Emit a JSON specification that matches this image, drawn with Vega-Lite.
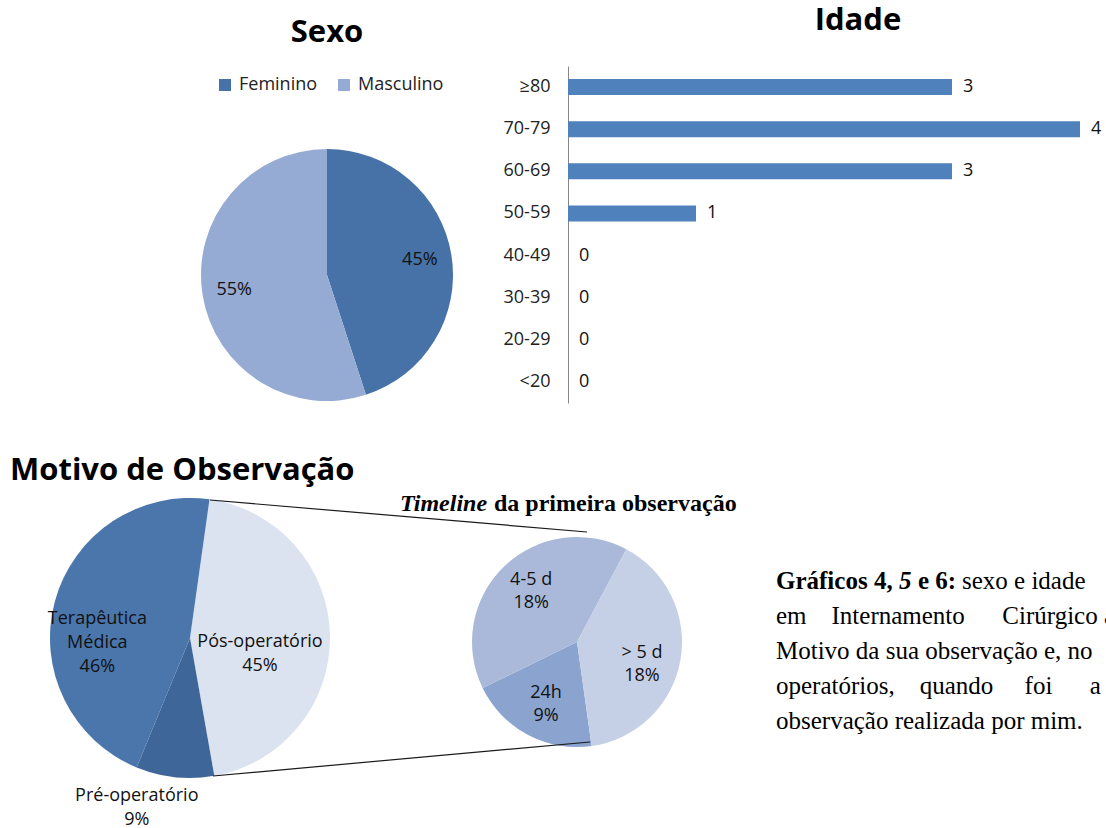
{
  "$schema": "https://vega.github.io/schema/vega-lite/v6.json",
  "background": "white",
  "padding": {"left": 10, "top": 5, "right": 0, "bottom": 0},
  "columns": 2,
  "bounds": "flush",
  "align": "none",
  "spacing": {"row": 14, "column": 14},
  "config": {
    "view": {"stroke": null},
    "font": "Open Sans",
    "title": {"font": "Open Sans", "fontSize": 31, "fontWeight": "bold", "color": "#000"},
    "text": {"font": "Open Sans", "fontSize": 18, "color": "#111"}
  },
  "concat": [
    {
      "width": 454,
      "height": 418,
      "title": {"text": "Sexo", "offset": 17},
      "data": {"values": [
        {"sexo": "Feminino", "pct": 45},
        {"sexo": "Masculino", "pct": 55}
      ]},
      "transform": [{"calculate": "datum.pct + '%'", "as": "rotulo"}],
      "encoding": {
        "theta": {"field": "pct", "type": "quantitative", "stack": true},
        "color": {
          "field": "sexo", "type": "nominal",
          "scale": {"domain": ["Feminino", "Masculino"], "range": ["#4672a7", "#95abd3"]},
          "legend": {
            "orient": "none", "legendX": 116, "legendY": 10, "direction": "horizontal",
            "title": null, "symbolType": "square", "symbolSize": 144, "symbolStrokeWidth": 0,
            "labelFontSize": 18, "labelFont": "Open Sans", "labelColor": "#222",
            "columnPadding": 17, "labelOffset": 5
          }
        }
      },
      "layer": [
        {"mark": {"type": "arc", "radius": 126}},
        {
          "mark": {"type": "text", "radius": 94},
          "encoding": {
            "text": {"field": "rotulo"},
            "detail": {"field": "sexo"},
            "color": {"value": "#111"}
          }
        }
      ]
    },
    {
      "width": 512,
      "height": 337,
      "title": {"text": "Idade", "offset": 29, "dx": 34},
      "data": {"values": [
        {"faixa": "≥80", "n": 3},
        {"faixa": "70-79", "n": 4},
        {"faixa": "60-69", "n": 3},
        {"faixa": "50-59", "n": 1},
        {"faixa": "40-49", "n": 0},
        {"faixa": "30-39", "n": 0},
        {"faixa": "20-29", "n": 0},
        {"faixa": "<20", "n": 0}
      ]},
      "encoding": {
        "y": {
          "field": "faixa", "type": "nominal", "sort": null,
          "scale": {"paddingInner": 0.62, "paddingOuter": 0.31},
          "axis": {
            "title": null, "ticks": false, "labelPadding": 18, "labelFontSize": 18,
            "labelFont": "Open Sans", "labelColor": "#222", "domainColor": "#888888"
          }
        },
        "x": {"field": "n", "type": "quantitative", "scale": {"domain": [0, 4], "nice": false}, "axis": null}
      },
      "layer": [
        {"mark": {"type": "bar", "color": "#4f81bd"}},
        {
          "mark": {"type": "text", "align": "left", "dx": 11},
          "encoding": {"text": {"field": "n", "type": "quantitative"}}
        }
      ]
    },
    {
      "width": 454,
      "height": 280,
      "title": {"text": "Motivo de Observação", "anchor": "start", "frame": "group", "dx": -90, "offset": 5},
      "resolve": {"scale": {"theta": "independent", "color": "independent"}},
      "layer": [
        {
          "data": {"values": [
            {"motivo": "Pós-operatório", "rotulo": "Pós-operatório", "pct": 45, "ordem": 1},
            {"motivo": "Pré-operatório", "rotulo": "Pré-operatório", "pct": 9, "ordem": 2},
            {"motivo": "Terapêutica Médica", "rotulo": "Terapêutica\nMédica", "pct": 46, "ordem": 3}
          ]},
          "mark": {"type": "arc", "radius": 140},
          "encoding": {
            "x": {"datum": 90, "type": "quantitative", "scale": {"domain": [0, 454], "nice": false, "zero": false}, "axis": null},
            "y": {"datum": 140, "type": "quantitative", "scale": {"domain": [0, 280], "nice": false, "zero": false, "reverse": true}, "axis": null},
            "theta": {"field": "pct", "type": "quantitative", "stack": true, "scale": {"range": [0.1396, 6.4228]}},
            "order": {"field": "ordem", "type": "quantitative"},
            "color": {
              "field": "motivo", "type": "nominal",
              "scale": {"domain": ["Terapêutica Médica", "Pré-operatório", "Pós-operatório"], "range": ["#4a76ac", "#3f6698", "#dce3f0"]},
              "legend": null
            }
          }
        },
        {
          "data": {"values": [
            {"motivo": "Pós-operatório", "rotulo": "Pós-operatório", "pct": 45, "ordem": 1},
            {"motivo": "Pré-operatório", "rotulo": "Pré-operatório", "pct": 9, "ordem": 2},
            {"motivo": "Terapêutica Médica", "rotulo": "Terapêutica\nMédica", "pct": 46, "ordem": 3}
          ]},
          "transform": [{"calculate": "datum.rotulo + '\\n' + datum.pct + '%'", "as": "txt"}],
          "mark": {
            "type": "text", "lineBreak": "\n", "lineHeight": 24, "baseline": "middle",
            "radius": {"expr": "datum.motivo === 'Pré-operatório' ? 178 : datum.motivo === 'Pós-operatório' ? 70 : 96"},
            "dx": {"expr": "datum.motivo === 'Pré-operatório' ? -34 : 0"},
            "dy": {"expr": "datum.motivo === 'Terapêutica Médica' ? 6 : datum.motivo === 'Pós-operatório' ? 5 : -19"}
          },
          "encoding": {
            "x": {"datum": 90, "type": "quantitative"},
            "y": {"datum": 140, "type": "quantitative"},
            "theta": {"field": "pct", "type": "quantitative", "stack": true, "scale": {"range": [0.1396, 6.4228]}},
            "order": {"field": "ordem", "type": "quantitative"},
            "detail": {"field": "motivo"},
            "text": {"field": "txt"}
          }
        },
        {
          "data": {"values": [
            {"tempo": "24h", "pct": 9},
            {"tempo": "4-5 d", "pct": 18},
            {"tempo": "> 5 d", "pct": 18}
          ]},
          "mark": {"type": "arc", "radius": 105},
          "encoding": {
            "x": {"datum": 477, "type": "quantitative"},
            "y": {"datum": 144, "type": "quantitative"},
            "theta": {"field": "pct", "type": "quantitative", "stack": true, "scale": {"range": [3.002, 9.2852]}},
            "order": {"field": "tempo", "sort": "ascending"},
            "color": {
              "field": "tempo", "type": "nominal",
              "scale": {"domain": ["24h", "4-5 d", "> 5 d"], "range": ["#8aa3cf", "#aab9d9", "#c5cfe5"]},
              "legend": null
            }
          }
        },
        {
          "data": {"values": [
            {"tempo": "24h", "pct": 9},
            {"tempo": "4-5 d", "pct": 18},
            {"tempo": "> 5 d", "pct": 18}
          ]},
          "transform": [{"calculate": "datum.tempo + '\\n' + datum.pct + '%'", "as": "txt"}],
          "mark": {
            "type": "text", "lineBreak": "\n", "lineHeight": 23, "baseline": "middle",
            "radius": 66,
            "dy": {"expr": "datum.tempo === '24h' ? -7 : datum.tempo === '4-5 d' ? -15 : 0"}
          },
          "encoding": {
            "x": {"datum": 477, "type": "quantitative"},
            "y": {"datum": 144, "type": "quantitative"},
            "theta": {"field": "pct", "type": "quantitative", "stack": true, "scale": {"range": [3.002, 9.2852]}},
            "order": {"field": "tempo", "sort": "ascending"},
            "detail": {"field": "tempo"},
            "text": {"field": "txt"}
          }
        },
        {
          "data": {"values": [{}]},
          "mark": {"type": "rule", "color": "#1a1a1a", "strokeWidth": 1.2},
          "encoding": {
            "x": {"datum": 110, "type": "quantitative"},
            "y": {"datum": 2, "type": "quantitative"},
            "x2": {"datum": 487},
            "y2": {"datum": 34}
          }
        },
        {
          "data": {"values": [{}]},
          "mark": {"type": "rule", "color": "#1a1a1a", "strokeWidth": 1.2},
          "encoding": {
            "x": {"datum": 113, "type": "quantitative"},
            "y": {"datum": 278, "type": "quantitative"},
            "x2": {"datum": 490},
            "y2": {"datum": 244}
          }
        },
        {
          "data": {"values": [{}]},
          "mark": {"type": "text", "font": "Liberation Serif", "fontSize": 24, "fontWeight": "bold", "fontStyle": "italic", "align": "left", "baseline": "alphabetic", "color": "#000"},
          "encoding": {
            "x": {"datum": 300, "type": "quantitative"},
            "y": {"datum": 13, "type": "quantitative"},
            "text": {"value": "Timeline"}
          }
        },
        {
          "data": {"values": [{}]},
          "mark": {"type": "text", "font": "Liberation Serif", "fontSize": 24, "fontWeight": "bold", "align": "left", "baseline": "alphabetic", "dx": 94, "color": "#000"},
          "encoding": {
            "x": {"datum": 300, "type": "quantitative"},
            "y": {"datum": 13, "type": "quantitative"},
            "text": {"value": "da primeira observação"}
          }
        }
      ]
    },
    {
      "width": 538,
      "height": 322,
      "data": {"values": [
        {"linha": 1, "estilo": "b1", "texto": "Gráficos 4,"},
        {"linha": 1, "estilo": "bi", "texto": "5"},
        {"linha": 1, "estilo": "b2", "texto": "e 6:"},
        {"linha": 1, "estilo": "r1", "texto": "sexo e idade"},
        {"linha": 2, "estilo": "r", "texto": "em\u00a0\u00a0\u00a0\u00a0Internamento\u00a0\u00a0\u00a0\u00a0\u00a0\u00a0Cirúrgico a"},
        {"linha": 3, "estilo": "r", "texto": "Motivo da sua observação e, no"},
        {"linha": 4, "estilo": "r", "texto": "operatórios,\u00a0\u00a0\u00a0\u00a0quando\u00a0\u00a0\u00a0\u00a0\u00a0foi\u00a0\u00a0\u00a0\u00a0\u00a0\u00a0a"},
        {"linha": 5, "estilo": "r", "texto": "observação realizada por mim."}
      ]},
      "encoding": {
        "y": {"field": "linha", "type": "quantitative", "axis": null, "scale": {"domain": [-1.6, 7.6], "nice": false, "zero": false, "reverse": true}},
        "x": {"datum": 0, "type": "quantitative", "scale": {"domain": [-0.3866, 0.6134], "nice": false, "zero": false}, "axis": null},
        "text": {"field": "texto"}
      },
      "layer": [
        {
          "transform": [{"filter": "datum.estilo === 'b1'"}],
          "mark": {"type": "text", "align": "left", "baseline": "alphabetic", "font": "Liberation Serif", "fontSize": 25, "fontWeight": "bold", "color": "#000", "clip": true}
        },
        {
          "transform": [{"filter": "datum.estilo === 'bi'"}],
          "mark": {"type": "text", "align": "left", "baseline": "alphabetic", "font": "Liberation Serif", "fontSize": 25, "fontWeight": "bold", "fontStyle": "italic", "dx": 123, "color": "#000", "clip": true}
        },
        {
          "transform": [{"filter": "datum.estilo === 'b2'"}],
          "mark": {"type": "text", "align": "left", "baseline": "alphabetic", "font": "Liberation Serif", "fontSize": 25, "fontWeight": "bold", "dx": 142, "color": "#000", "clip": true}
        },
        {
          "transform": [{"filter": "datum.estilo === 'r1'"}],
          "mark": {"type": "text", "align": "left", "baseline": "alphabetic", "font": "Liberation Serif", "fontSize": 25, "dx": 186, "color": "#000", "clip": true}
        },
        {
          "transform": [{"filter": "datum.estilo === 'r'"}],
          "mark": {"type": "text", "align": "left", "baseline": "alphabetic", "font": "Liberation Serif", "fontSize": 25, "color": "#000", "clip": true}
        }
      ]
    }
  ]
}
